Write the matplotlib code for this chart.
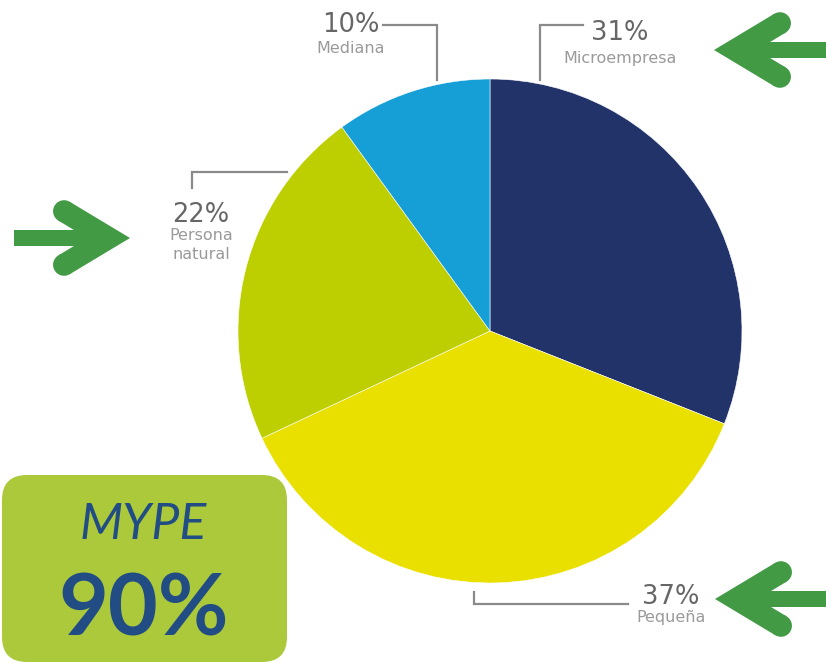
import numpy as np
import matplotlib.pyplot as plt
from matplotlib.patches import Polygon, Circle, Rectangle, FancyBboxPatch

# Datos del grafico
categorias = ["Microempresa", "Pequeña", "Persona\nnatural", "Mediana"]
porcentajes = [31, 37, 22, 10]
colores = ["#22336a", "#e9e000", "#bdcf00", "#169fd7"]
total_mype = 90

GRIS_LINEA = "#8a8a8a"
GRIS_NUM = "#666666"
GRIS_TXT = "#9a9a9a"
VERDE = "#429a45"
AZUL = "#214c84"


# Flecha verde (coordenadas en pixeles de la imagen)
def draw_arrow(ax, tip, s, shaft_end, h=11, hs=8, phi=31, arm=52):
    phi = np.radians(phi)
    tip = np.array(tip, float)
    a = np.array([s, 0.0])
    c = tip - a * h / np.sin(phi)
    pts_out = []
    ends = []
    for sy in (-1, 1):
        b = np.array([-s * np.cos(phi), sy * np.sin(phi)])
        e = c + arm * b
        n = np.array([-b[1], b[0]])
        if n[1] * b[1] < 0:
            n = -n
        ends.append(e)
        pts_out.append((e + n * h, e - n * h))
    inner = c - a * h / np.sin(phi)
    poly = [tip, pts_out[0][0], pts_out[0][1], inner, pts_out[1][1], pts_out[1][0]]
    ax.add_patch(Polygon(poly, closed=True, color=VERDE, lw=0))
    for e in ends:
        ax.add_patch(Circle(e, h, color=VERDE, lw=0))
    x0, x1 = sorted([c[0], shaft_end])
    ax.add_patch(Rectangle((x0, c[1] - hs), x1 - x0, 2 * hs, color=VERDE, lw=0))


def leader(ax, xs, ys):
    ax.plot(xs, ys, color=GRIS_LINEA, lw=1.6, solid_joinstyle="miter")


fig = plt.figure(figsize=(8.26, 6.63), dpi=100)
ax = fig.add_axes([0, 0, 1, 1])

ax.pie(porcentajes, colors=colores, startangle=-90, counterclock=True,
       center=(490, 331), radius=252,
       wedgeprops=dict(edgecolor="white", linewidth=0.4))

ax.set_xlim(0, 826)
ax.set_ylim(663, 0)
ax.set_aspect("equal")
ax.axis("off")

# Etiquetas con lineas guia
leader(ax, [383, 437, 437], [25, 25, 80])
leader(ax, [583, 540, 540], [25, 25, 80])
leader(ax, [287, 192, 192], [172, 172, 188])
leader(ax, [474, 474, 628], [592, 604, 604])

etiquetas = [
    (351, 32, 53, 3),
    (620, 40, 63, 0),
    (201, 222, 240, 2),
    (671, 604, 622, 1),
]
for x, y_num, y_txt, i in etiquetas:
    ax.text(x, y_num, f"{porcentajes[i]}%", ha="center", va="baseline",
            fontsize=18.5, color=GRIS_NUM)
    for k, linea in enumerate(categorias[i].split("\n")):
        ax.text(x, y_txt + 19 * k, linea, ha="center", va="baseline",
                fontsize=11.5, color=GRIS_TXT)

# Flechas
draw_arrow(ax, (714, 50), -1, 830)
draw_arrow(ax, (130, 238), 1, 14)
draw_arrow(ax, (715, 599), -1, 830)

# Recuadro MYPE
box = FancyBboxPatch((2, 475), 285, 187, boxstyle="round,pad=0,rounding_size=25",
                     fc="#abc93b", ec="none")
ax.add_patch(box)
ax.text(143, 539, "MYPE", ha="center", va="baseline", fontsize=36,
        family="Lato", style="italic", color=AZUL)
ax.text(144, 636, f"{total_mype}%", ha="center", va="baseline", fontsize=62,
        family="Lato", weight="bold", color=AZUL)

fig.savefig("out.png", dpi=100)
